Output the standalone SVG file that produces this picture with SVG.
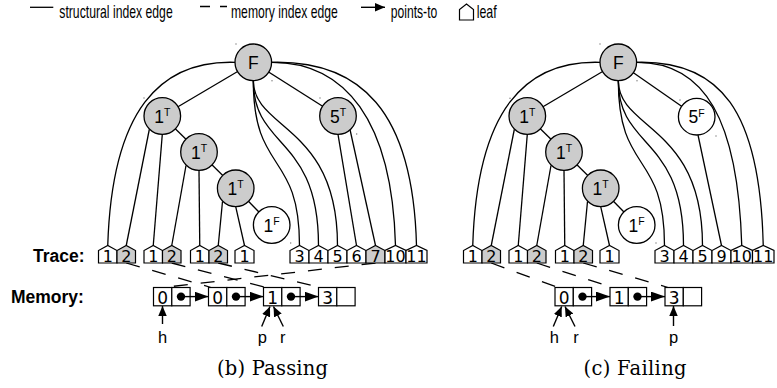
<svg xmlns="http://www.w3.org/2000/svg" width="777" height="388" viewBox="0 0 777 388">
<style>
  .e{fill:none;stroke:#000;stroke-width:1.3}
  .m{fill:none;stroke:#000;stroke-width:1.3;stroke-dasharray:14 13}
  .nd{stroke:#000;stroke-width:1.3}
  .g{fill:#ccc}
  .w{fill:#fff}
  .lf{stroke:#000;stroke-width:1.2}
  .lbl{font-family:"Liberation Sans",Arial,sans-serif;font-size:17.5px;text-anchor:middle}
  .sup{font-size:10.5px}
  .dig{font-family:"DejaVu Sans",sans-serif;font-size:16px;text-anchor:middle}
  .mdig{font-family:"DejaVu Sans",sans-serif;font-size:17px;text-anchor:middle}
  .hd{font-family:"Liberation Sans",Arial,sans-serif;font-weight:bold;font-size:17.5px}
  .var{font-family:"Liberation Sans",Arial,sans-serif;font-size:16.5px;text-anchor:middle}
  .cap{font-family:"DejaVu Serif",serif;font-size:19.5px;text-anchor:middle}
  .leg{font-family:"Liberation Sans Narrow","Liberation Sans",sans-serif;font-size:19px}
  .cell{fill:#fff;stroke:#000;stroke-width:1.2}
  .ar{fill:none;stroke:#000;stroke-width:1.4}
  .dot{fill:#777}
</style>
<defs>
  <marker id="next" viewBox="0 0 14 10" refX="14" refY="5" markerWidth="14" markerHeight="10" markerUnits="userSpaceOnUse" orient="auto">
    <path d="M0,0 L14,5 L0,10 Z" fill="#000"/>
  </marker>
  <marker id="ptr" viewBox="0 0 10 8.5" refX="10" refY="4.25" markerWidth="10" markerHeight="8.5" markerUnits="userSpaceOnUse" orient="auto">
    <path d="M0,0 L10,4.25 L0,8.5 Z" fill="#000"/>
  </marker>
</defs>

<!-- legend -->
<g id="legend">
  <path class="e" d="M30,7.3 H53.3"/>
  <text class="leg" x="59.3" y="18.3" textLength="113.4" lengthAdjust="spacingAndGlyphs">structural index edge</text>
  <path class="e" d="M200,6.5 H227" stroke-dasharray="10 10"/>
  <text class="leg" x="231" y="18.3" textLength="106.7" lengthAdjust="spacingAndGlyphs">memory index edge</text>
  <path class="ar" d="M361,7.3 H385" marker-end="url(#ptr)"/>
  <text class="leg" x="390.7" y="18.3" textLength="46.6" lengthAdjust="spacingAndGlyphs">points-to</text>
  <path class="lf" fill="#fff" d="M459.5,20 V9.5 L466.5,4 L473.5,9.5 V20 Z"/>
  <text class="leg" x="476.7" y="18.3" textLength="20" lengthAdjust="spacingAndGlyphs">leaf</text>
</g>

<!-- row headings -->
<text class="hd" x="33" y="261.7">Trace:</text>
<text class="hd" x="11" y="302.7">Memory:</text>

<!-- ===== (b) passing run ===== -->
<g id="connectors-b">
  <path class="e" d="M253.3,62.3 L162.3,116"/>
  <path class="e" d="M253.3,62.3 L338,116"/>
  <path class="e" d="M162.3,116 L199,152"/>
  <path class="e" d="M199,152 L235.7,188.3"/>
  <path class="e" d="M235.7,188.3 L271.7,225"/>
  <path class="e" d="M235,62.3 C160,60 112,110 107.75,245.5"/>
  <path class="e" d="M149.3,129.5 L126.25,245.5"/>
  <path class="e" d="M162.3,134.3 L153.25,245.5"/>
  <path class="e" d="M186,165.5 L171.75,245.5"/>
  <path class="e" d="M199,170.3 L199.75,245.5"/>
  <path class="e" d="M222.5,201.5 L218.25,245.5"/>
  <path class="e" d="M235.7,206.6 L244.5,245.5"/>
  <path class="e" d="M253.3,80.6 C253.3,175 299.5,150 299.5,245.5"/>
  <path class="e" d="M253.3,80.6 C253.3,150 318.5,135 318.5,245.5"/>
  <path class="e" d="M253.3,80.6 C253.3,130 337.5,125 337.5,245.5"/>
  <path class="e" d="M338,134.3 L356.5,245.5"/>
  <path class="e" d="M350,129.5 L375.5,245.5"/>
  <path class="e" d="M271.6,62.3 C345,62 392,120 395.5,245.5"/>
  <path class="e" d="M271.6,62.3 C360,60 413,110 416.5,245.5"/>
  <!-- memory index edges -->
  <path class="m" d="M126.25,263 L211,287.5"/>
  <path class="m" d="M171.75,263 L266,287.5"/>
  <path class="m" d="M218.25,263 L321,287.5"/>
  <path class="m" d="M375.5,263 L163,287.5"/>
</g>

<g id="b-F" class="node"><circle class="nd g" cx="253.3" cy="62.3" r="18.3"/><text class="lbl" x="253.3" y="68.5">F</text></g>
<g id="b-n1" class="node"><circle class="nd g" cx="162.3" cy="116" r="18.3"/><text class="lbl" x="162.3" y="122.5">1<tspan class="sup" dy="-6.5">T</tspan></text></g>
<g id="b-n2" class="node"><circle class="nd g" cx="199" cy="152" r="18.3"/><text class="lbl" x="199" y="158.5">1<tspan class="sup" dy="-6.5">T</tspan></text></g>
<g id="b-n3" class="node"><circle class="nd g" cx="235.7" cy="188.3" r="18.3"/><text class="lbl" x="235.7" y="194.8">1<tspan class="sup" dy="-6.5">T</tspan></text></g>
<g id="b-n4" class="node"><circle class="nd w" cx="271.7" cy="225" r="18.3"/><text class="lbl" x="271.7" y="231.5">1<tspan class="sup" dy="-6.5">F</tspan></text></g>
<g id="b-n5" class="node"><circle class="nd g" cx="338" cy="116" r="18.3"/><text class="lbl" x="338" y="122.5">5<tspan class="sup" dy="-6.5">T</tspan></text></g>

<g id="b-trace">
  <g id="b-l1"><path class="lf w" d="M98.5,263 V250.5 L107.75,245.5 L117,250.5 V263 Z"/><text class="dig" x="107.75" y="261.5">1</text></g>
  <g id="b-l2"><path class="lf g" d="M117,263 V250.5 L126.25,245.5 L135.5,250.5 V263 Z"/><text class="dig" x="126.25" y="261.5">2</text></g>
  <g id="b-l3"><path class="lf w" d="M144,263 V250.5 L153.25,245.5 L162.5,250.5 V263 Z"/><text class="dig" x="153.25" y="261.5">1</text></g>
  <g id="b-l4"><path class="lf g" d="M162.5,263 V250.5 L171.75,245.5 L181,250.5 V263 Z"/><text class="dig" x="171.75" y="261.5">2</text></g>
  <g id="b-l5"><path class="lf w" d="M190.5,263 V250.5 L199.75,245.5 L209,250.5 V263 Z"/><text class="dig" x="199.75" y="261.5">1</text></g>
  <g id="b-l6"><path class="lf g" d="M209,263 V250.5 L218.25,245.5 L227.5,250.5 V263 Z"/><text class="dig" x="218.25" y="261.5">2</text></g>
  <g id="b-l7"><path class="lf w" d="M235,263 V250.5 L244.5,245.5 L254,250.5 V263 Z"/><text class="dig" x="244.5" y="261.5">1</text></g>
  <g id="b-l8"><path class="lf w" d="M290,263 V250.5 L299.5,245.5 L309,250.5 V263 Z"/><text class="dig" x="299.5" y="261.5">3</text></g>
  <g id="b-l9"><path class="lf w" d="M309,263 V250.5 L318.5,245.5 L328,250.5 V263 Z"/><text class="dig" x="318.5" y="261.5">4</text></g>
  <g id="b-l10"><path class="lf w" d="M328,263 V250.5 L337.5,245.5 L347,250.5 V263 Z"/><text class="dig" x="337.5" y="261.5">5</text></g>
  <g id="b-l11"><path class="lf w" d="M347,263 V250.5 L356.5,245.5 L366,250.5 V263 Z"/><text class="dig" x="356.5" y="261.5">6</text></g>
  <g id="b-l12"><path class="lf g" d="M366,263 V250.5 L375.5,245.5 L385,250.5 V263 Z"/><text class="dig" x="375.5" y="261.5">7</text></g>
  <g id="b-l13"><path class="lf w" d="M385,263 V250.5 L395.5,245.5 L406,250.5 V263 Z"/><text class="dig" x="395.5" y="261.5">10</text></g>
  <g id="b-l14"><path class="lf w" d="M406,263 V250.5 L416.5,245.5 L427,250.5 V263 Z"/><text class="dig" x="416.5" y="261.5">11</text></g>
</g>

<g id="b-memory">
  <g id="b-m0"><rect class="cell" x="153.5" y="287.5" width="18.3" height="18.3"/><rect class="cell" x="171.8" y="287.5" width="18.3" height="18.3"/><text class="mdig" x="162.65" y="303.5">0</text><circle cx="181" cy="296.6" r="4.2"/><path class="ar" d="M181,296.6 H208.5" marker-end="url(#next)"/></g>
  <g id="b-m1"><rect class="cell" x="208.5" y="287.5" width="18.3" height="18.3"/><rect class="cell" x="226.8" y="287.5" width="18.3" height="18.3"/><text class="mdig" x="217.65" y="303.5">0</text><circle cx="236" cy="296.6" r="4.2"/><path class="ar" d="M236,296.6 H263.5" marker-end="url(#next)"/></g>
  <g id="b-m2"><rect class="cell" x="263.5" y="287.5" width="18.3" height="18.3"/><rect class="cell" x="281.8" y="287.5" width="18.3" height="18.3"/><text class="mdig" x="272.65" y="303.5">1</text><circle cx="291" cy="296.6" r="4.2"/><path class="ar" d="M291,296.6 H318.5" marker-end="url(#next)"/></g>
  <g id="b-m3"><rect class="cell" x="318.5" y="287.5" width="18.3" height="18.3"/><rect class="cell" x="336.8" y="287.5" width="18.3" height="18.3"/><text class="mdig" x="327.65" y="303.5">3</text></g>
  <g id="b-vars">
    <path class="ar" d="M162.5,324 V306" marker-end="url(#ptr)"/>
    <path class="ar" d="M261.7,326.5 L270,306.5" marker-end="url(#ptr)"/>
    <path class="ar" d="M283.3,326.5 L273.5,306.5" marker-end="url(#ptr)"/>
    <text class="var" x="162.5" y="342.7">h</text>
    <text class="var" x="262.3" y="342.7">p</text>
    <text class="var" x="282.7" y="342.7">r</text>
  </g>
</g>
<text class="cap" x="272.5" y="375" textLength="111">(b) Passing</text>

<!-- ===== (c) failing run ===== -->
<g id="connectors-c">
  <path class="e" d="M618.3,62.3 L527.3,116"/>
  <path class="e" d="M618.3,62.3 L696.7,116.7"/>
  <path class="e" d="M527.3,116 L564,152"/>
  <path class="e" d="M564,152 L600.7,188.3"/>
  <path class="e" d="M600.7,188.3 L636.7,225"/>
  <path class="e" d="M600,62.3 C525,60 477,110 472.75,245.5"/>
  <path class="e" d="M514.3,129.5 L491.25,245.5"/>
  <path class="e" d="M527.3,134.3 L518.25,245.5"/>
  <path class="e" d="M551,165.5 L536.75,245.5"/>
  <path class="e" d="M564,170.3 L564.75,245.5"/>
  <path class="e" d="M587.5,201.5 L583.25,245.5"/>
  <path class="e" d="M600.7,206.6 L609.5,245.5"/>
  <path class="e" d="M618.3,80.6 C618.3,175 664.5,150 664.5,245.5"/>
  <path class="e" d="M618.3,80.6 C618.3,150 683.5,135 683.5,245.5"/>
  <path class="e" d="M618.3,80.6 C618.3,130 702.5,125 702.5,245.5"/>
  <path class="e" d="M698,135 L721.5,245.5"/>
  <path class="e" d="M636.6,62.3 C705,62 738,120 741.75,245.5"/>
  <path class="e" d="M636.6,62.3 C720,60 760,110 763.25,245.5"/>
  <!-- memory index edges -->
  <path class="m" d="M491.25,263 L558,287.5"/>
  <path class="m" d="M536.75,263 L613,287.5"/>
  <path class="m" d="M583.25,263 L668,287.5"/>
</g>

<g id="c-F" class="node"><circle class="nd g" cx="618.3" cy="62.3" r="18.3"/><text class="lbl" x="618.3" y="68.5">F</text></g>
<g id="c-n1" class="node"><circle class="nd g" cx="527.3" cy="116" r="18.3"/><text class="lbl" x="527.3" y="122.5">1<tspan class="sup" dy="-6.5">T</tspan></text></g>
<g id="c-n2" class="node"><circle class="nd g" cx="564" cy="152" r="18.3"/><text class="lbl" x="564" y="158.5">1<tspan class="sup" dy="-6.5">T</tspan></text></g>
<g id="c-n3" class="node"><circle class="nd g" cx="600.7" cy="188.3" r="18.3"/><text class="lbl" x="600.7" y="194.8">1<tspan class="sup" dy="-6.5">T</tspan></text></g>
<g id="c-n4" class="node"><circle class="nd w" cx="636.7" cy="225" r="18.3"/><text class="lbl" x="636.7" y="231.5">1<tspan class="sup" dy="-6.5">F</tspan></text></g>
<g id="c-n5" class="node"><circle class="nd w" cx="696.7" cy="116.7" r="18.3"/><text class="lbl" x="696.7" y="123.2">5<tspan class="sup" dy="-6.5">F</tspan></text></g>

<g id="c-trace">
  <g id="c-l1"><path class="lf w" d="M463.5,263 V250.5 L472.75,245.5 L482,250.5 V263 Z"/><text class="dig" x="472.75" y="261.5">1</text></g>
  <g id="c-l2"><path class="lf g" d="M482,263 V250.5 L491.25,245.5 L500.5,250.5 V263 Z"/><text class="dig" x="491.25" y="261.5">2</text></g>
  <g id="c-l3"><path class="lf w" d="M509,263 V250.5 L518.25,245.5 L527.5,250.5 V263 Z"/><text class="dig" x="518.25" y="261.5">1</text></g>
  <g id="c-l4"><path class="lf g" d="M527.5,263 V250.5 L536.75,245.5 L546,250.5 V263 Z"/><text class="dig" x="536.75" y="261.5">2</text></g>
  <g id="c-l5"><path class="lf w" d="M555.5,263 V250.5 L564.75,245.5 L574,250.5 V263 Z"/><text class="dig" x="564.75" y="261.5">1</text></g>
  <g id="c-l6"><path class="lf g" d="M574,263 V250.5 L583.25,245.5 L592.5,250.5 V263 Z"/><text class="dig" x="583.25" y="261.5">2</text></g>
  <g id="c-l7"><path class="lf w" d="M600,263 V250.5 L609.5,245.5 L619,250.5 V263 Z"/><text class="dig" x="609.5" y="261.5">1</text></g>
  <g id="c-l8"><path class="lf w" d="M655,263 V250.5 L664.5,245.5 L674,250.5 V263 Z"/><text class="dig" x="664.5" y="261.5">3</text></g>
  <g id="c-l9"><path class="lf w" d="M674,263 V250.5 L683.5,245.5 L693,250.5 V263 Z"/><text class="dig" x="683.5" y="261.5">4</text></g>
  <g id="c-l10"><path class="lf w" d="M693,263 V250.5 L702.5,245.5 L712,250.5 V263 Z"/><text class="dig" x="702.5" y="261.5">5</text></g>
  <g id="c-l11"><path class="lf w" d="M712,263 V250.5 L721.5,245.5 L731,250.5 V263 Z"/><text class="dig" x="721.5" y="261.5">9</text></g>
  <g id="c-l12"><path class="lf w" d="M731,263 V250.5 L741.75,245.5 L752.5,250.5 V263 Z"/><text class="dig" x="741.75" y="261.5">10</text></g>
  <g id="c-l13"><path class="lf w" d="M752.5,263 V250.5 L763.25,245.5 L774,250.5 V263 Z"/><text class="dig" x="763.25" y="261.5">11</text></g>
</g>

<g id="c-memory">
  <g id="c-m0"><rect class="cell" x="555" y="287.5" width="18.3" height="18.3"/><rect class="cell" x="573.3" y="287.5" width="18.3" height="18.3"/><text class="mdig" x="564.15" y="303.5">0</text><circle cx="582.5" cy="296.6" r="4.2"/><path class="ar" d="M582.5,296.6 H610" marker-end="url(#next)"/></g>
  <g id="c-m1"><rect class="cell" x="610" y="287.5" width="18.3" height="18.3"/><rect class="cell" x="628.3" y="287.5" width="18.3" height="18.3"/><text class="mdig" x="619.15" y="303.5">1</text><circle cx="637.5" cy="296.6" r="4.2"/><path class="ar" d="M637.5,296.6 H665" marker-end="url(#next)"/></g>
  <g id="c-m2"><rect class="cell" x="665" y="287.5" width="18.3" height="18.3"/><rect class="cell" x="683.3" y="287.5" width="18.3" height="18.3"/><text class="mdig" x="674.15" y="303.5">3</text></g>
  <g id="c-vars">
    <path class="ar" d="M553.3,326.5 L561.7,306.5" marker-end="url(#ptr)"/>
    <path class="ar" d="M575,326.5 L565,306.5" marker-end="url(#ptr)"/>
    <path class="ar" d="M673.5,326 V306" marker-end="url(#ptr)"/>
    <text class="var" x="554.3" y="342.7">h</text>
    <text class="var" x="576" y="342.7">r</text>
    <text class="var" x="673.5" y="342.7">p</text>
  </g>
</g>
<text class="cap" x="635" y="375" textLength="103">(c) Failing</text>

<!-- small anchor specks -->
<g id="specks" class="dot">
  <circle cx="236" cy="44" r="0.7"/><circle cx="144" cy="98" r="0.7"/><circle cx="272" cy="80.7" r="0.7"/>
  <circle cx="320" cy="98" r="0.7"/><circle cx="356.7" cy="134" r="0.7"/><circle cx="290.7" cy="243" r="0.7"/>
  <circle cx="600" cy="44" r="0.7"/><circle cx="510" cy="98.3" r="0.7"/><circle cx="637" cy="80.7" r="0.7"/>
  <circle cx="680" cy="100" r="0.7"/><circle cx="716" cy="136" r="0.7"/><circle cx="656" cy="243" r="0.7"/>
</g>
</svg>
